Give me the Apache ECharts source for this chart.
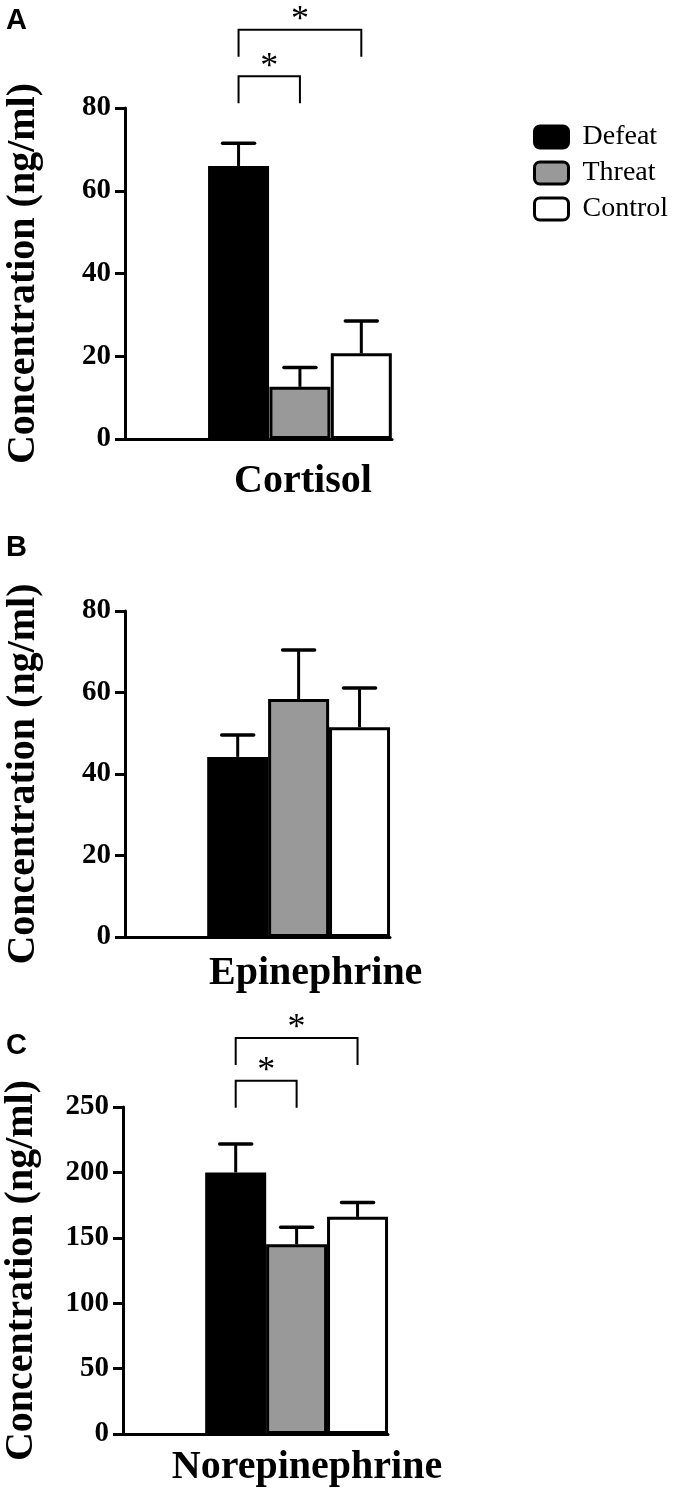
<!DOCTYPE html>
<html>
<head>
<meta charset="utf-8">
<script src="https://cdn.jsdelivr.net/npm/echarts@6/dist/echarts.min.js"></script>
<style>
  html, body { margin: 0; padding: 0; background: #fff; }
  #main { width: 680px; height: 1492px; }
</style>
</head>
<body>
<div id="main"></div>
<script>
// groups (legend)
var groups = ['Defeat', 'Threat', 'Control'];

// A - cortisol
var cortisolMean = [66, 12.6, 20.7];
var cortisolSem = [5.5, 4.7, 7.8];
var cortisolTicks = [0, 20, 40, 60, 80];
var cortisolSig = [[0, 1, 87.7], [0, 2, 98.9]];

// B - epinephrine
var epiMean = [44.2, 58.4, 51.5];
var epiSem = [5.4, 12.0, 9.6];
var epiTicks = [0, 20, 40, 60, 80];
var epiSig = [];

// C - norepinephrine
var norMean = [200, 145, 166];
var norSem = [21.7, 13, 11];
var norTicks = [0, 50, 100, 150, 200, 250];
var norSig = [[0, 1, 270], [0, 2, 302.8]];

var SERIF = '"Liberation Serif", "Times New Roman", serif';
var SANS = '"Liberation Sans", Arial, sans-serif';
var fills = ['#000000', '#999999', '#ffffff'];
var X_MAX = 4.35;      // x extent in bar widths
var X_OFF = 1.85;      // first bar center
var BAR_W = 61;

function pos(i) { return i + X_OFF; }

var panels = [
    { letter: 'A', label: 'Cortisol', mean: cortisolMean, sem: cortisolSem, ticks: cortisolTicks, sig: cortisolSig,
      left: 125, top: 108, width: 267, height: 331, labelMargin: 23, labelShift: 0.05 },
    { letter: 'B', label: 'Epinephrine', mean: epiMean, sem: epiSem, ticks: epiTicks, sig: epiSig,
      left: 125, top: 611, width: 265, height: 326, labelMargin: 17, labelShift: 0.28 },
    { letter: 'C', label: 'Norepinephrine', mean: norMean, sem: norSem, ticks: norTicks, sig: norSig,
      left: 123, top: 1107, width: 265, height: 327, labelMargin: 14, labelShift: 0.17 }
];
var letterTops = [6, 533, 1031];

/**
 * 误差线
 */
function renderErr(params, api) {
    var x = api.value(0), m = api.value(1), s = api.value(2);
    var p0 = api.coord([x, m]);
    var p1 = api.coord([x, m + s]);
    return {
        type: 'group',
        children: [
            { type: 'line', shape: { x1: p0[0], y1: p0[1], x2: p1[0], y2: p1[1] },
              style: { stroke: '#000', lineWidth: 3 } },
            { type: 'line', shape: { x1: p1[0] - 16, y1: p1[1], x2: p1[0] + 16, y2: p1[1] },
              style: { stroke: '#000', lineWidth: 3.5, lineCap: 'round' } }
        ]
    };
}

/**
 * 显著性括号
 */
function renderSig(params, api) {
    var a = api.coord([pos(api.value(0)), api.value(2)]);
    var b = api.coord([pos(api.value(1)), api.value(2)]);
    var leg = 27;
    return {
        type: 'group',
        children: [
            { type: 'polyline', shape: { points: [[a[0], a[1] + leg], [a[0], a[1]], [b[0], a[1]], [b[0], a[1] + leg]] },
              style: { stroke: '#000', lineWidth: 2, fill: null } },
            { type: 'text', x: (a[0] + b[0]) / 2, y: a[1] - 9,
              style: { text: '*', font: '36px ' + SERIF, align: 'center', verticalAlign: 'middle', fill: '#000' } }
        ]
    };
}

var grid = [], xAxis = [], yAxis = [], series = [], title = [];

panels.forEach(function (p, k) {
    var ticks = p.ticks;
    grid.push({ left: p.left, top: p.top, width: p.width, height: p.height, outerBoundsMode: 'none', containLabel: false });
    title.push({ text: p.letter, left: 6, top: letterTops[k], padding: 0,
        textStyle: { fontFamily: SANS, fontWeight: 'bold', fontSize: 29, color: '#000' } });
    xAxis.push({
        type: 'value', gridIndex: k, min: 0, max: X_MAX,
        axisLine: { show: true, onZero: false, lineStyle: { color: '#000', width: 3 } },
        axisTick: { show: false },
        splitLine: { show: false },
        axisLabel: {
            show: true, customValues: [pos(1) + p.labelShift], margin: p.labelMargin,
            formatter: function () { return p.label; },
            fontFamily: SERIF, fontWeight: 'bold', fontSize: 40, color: '#000'
        }
    });
    yAxis.push({
        type: 'value', gridIndex: k,
        min: ticks[0], max: ticks[ticks.length - 1], interval: ticks[1] - ticks[0],
        name: 'Concentration (ng/ml)', nameLocation: 'middle', nameGap: 81,
        nameTextStyle: { fontFamily: SERIF, fontWeight: 'bold', fontSize: 40, color: '#000' },
        axisLine: { show: true, lineStyle: { color: '#000', width: 3 } },
        axisTick: { show: true, length: 10, lineStyle: { color: '#000', width: 3 } },
        splitLine: { show: false },
        axisLabel: { margin: 14, fontFamily: SERIF, fontWeight: 'bold', fontSize: 29, color: '#000' }
    });

    groups.forEach(function (g, i) {
        series.push({
            type: 'bar', name: g, xAxisIndex: k, yAxisIndex: k,
            barWidth: BAR_W, barGap: '-100%',
            itemStyle: { color: fills[i], borderColor: '#000', borderWidth: 3 },
            data: [[pos(i), p.mean[i]]],
            silent: true
        });
    });

    series.push({
        type: 'custom', name: 'err' + k, xAxisIndex: k, yAxisIndex: k,
        renderItem: renderErr, clip: false, silent: true, z: 3,
        encode: { x: 0, y: 1 },
        data: p.mean.map(function (m, i) { return [pos(i), m, p.sem[i]]; })
    });

    if (p.sig.length) {
        series.push({
            type: 'custom', name: 'sig' + k, xAxisIndex: k, yAxisIndex: k,
            renderItem: renderSig, clip: false, silent: true,
            encode: { x: 0, y: 2 },
            data: p.sig
        });
    }
});

var myChart = echarts.init(document.getElementById('main'));
myChart.setOption({
    backgroundColor: '#fff',
    animation: false,
    title: title,
    legend: {
        data: groups, orient: 'vertical', left: 528, top: 118,
        itemWidth: 34, itemHeight: 22, itemGap: 8,
        icon: 'roundRect',
        itemStyle: { borderColor: '#000', borderWidth: 3 },
        textStyle: { fontFamily: SERIF, fontSize: 28, color: '#000', lineHeight: 22, padding: [0, 0, 0, 9] }
    },
    grid: grid,
    xAxis: xAxis,
    yAxis: yAxis,
    series: series
});
</script>
</body>
</html>
